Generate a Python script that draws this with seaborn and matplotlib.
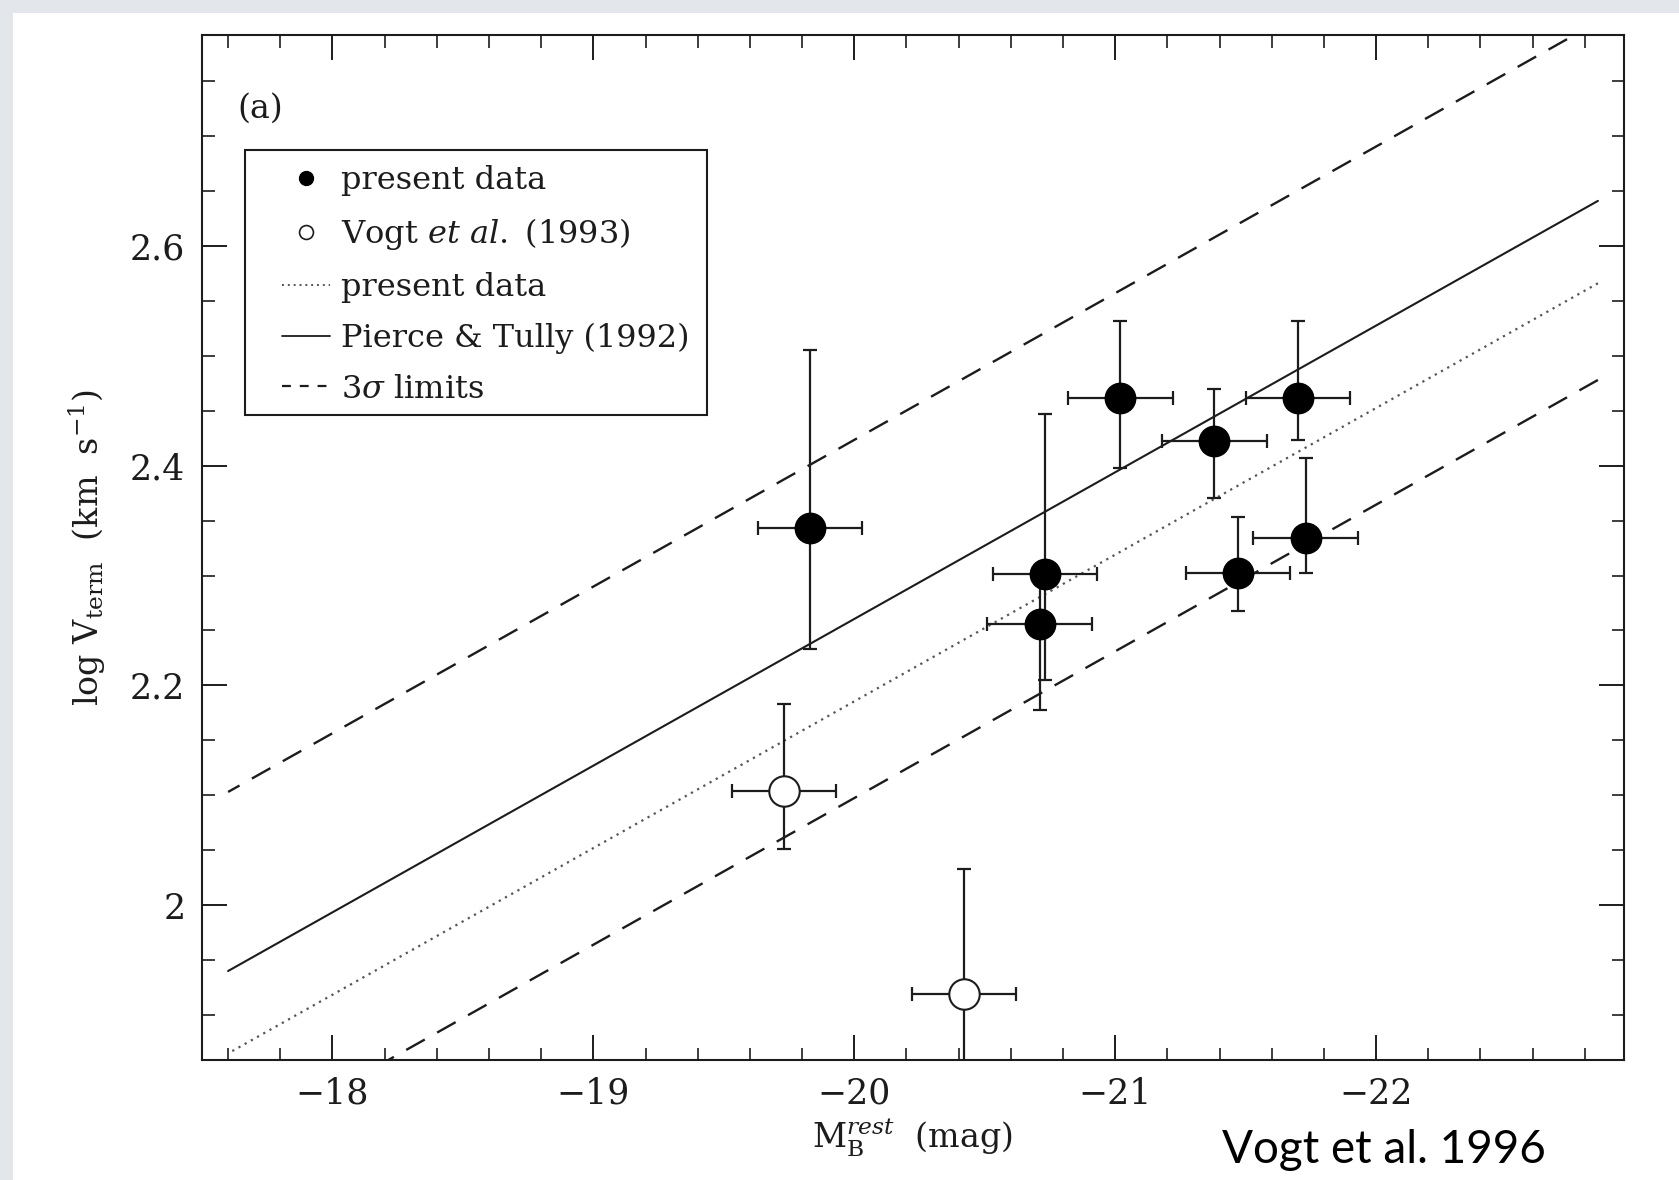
import matplotlib
matplotlib.use("Agg")
import matplotlib.pyplot as plt
from matplotlib.lines import Line2D
from matplotlib.patches import Rectangle
from matplotlib.ticker import MultipleLocator, FuncFormatter
import seaborn as sns
import pandas as pd

# ---- data ----
present_x = [-19.83, -21.02, -21.38, -21.70, -20.73, -20.71, -21.47, -21.73]
present_y = [2.343, 2.462, 2.422, 2.462, 2.301, 2.256, 2.302, 2.334]
present_yerr_lo = [0.110, 0.064, 0.051, 0.039, 0.096, 0.078, 0.034, 0.032]
present_yerr_hi = [0.162, 0.070, 0.048, 0.070, 0.146, 0.050, 0.051, 0.073]
present_xerr = [0.20, 0.20, 0.20, 0.20, 0.20, 0.20, 0.20, 0.20]

vogt_x = [-19.73, -20.42]
vogt_y = [2.104, 1.919]
vogt_yerr_lo = [0.053, 0.12]
vogt_yerr_hi = [0.079, 0.114]
vogt_xerr = [0.20, 0.20]

line_x = [-17.60, -22.85]
pt_y = [1.940, 2.641]          # Pierce & Tully (1992)
fit_y = [1.865, 2.566]         # present data fit (dotted)
upper_y = [2.103, 2.804]       # +3 sigma
lower_y = [1.777, 2.478]       # -3 sigma

xticks = [-18, -19, -20, -21, -22]
yticks = [2.0, 2.2, 2.4, 2.6]

# ---- style ----
sns.set_theme(style="white")
plt.rcParams["font.family"] = ["DejaVu Serif"]
plt.rcParams["mathtext.fontset"] = "dejavuserif"

INK = "#1c1c1c"
W, H = 1679, 1180
fig = plt.figure(figsize=(W / 100, H / 100), dpi=100, facecolor="white")
# slide-like grey border (top and left)
fig.patches.append(Rectangle((0, 1 - 13 / H), 1, 13 / H, transform=fig.transFigure,
                             facecolor="#e3e6ea", edgecolor="none", zorder=0))
fig.patches.append(Rectangle((0, 0), 13 / W, 1, transform=fig.transFigure,
                             facecolor="#e3e6ea", edgecolor="none", zorder=0))

ax = fig.add_axes([202 / W, (H - 1060) / H, (1624 - 202) / W, (1060 - 35) / H])
ax.set_facecolor("white")

lines_df = pd.DataFrame({"x": line_x * 4,
                         "y": pt_y + fit_y + upper_y + lower_y,
                         "kind": ["pt"] * 2 + ["fit"] * 2 + ["up"] * 2 + ["lo"] * 2})
sns.lineplot(data=lines_df[lines_df.kind == "pt"], x="x", y="y", ax=ax, color=INK,
             lw=1.5, legend=False)
sns.lineplot(data=lines_df[lines_df.kind == "fit"], x="x", y="y", ax=ax, color="#555555",
             lw=1.6, legend=False, linestyle=(0, (1, 2.2)))
for k in ["up", "lo"]:
    sns.lineplot(data=lines_df[lines_df.kind == k], x="x", y="y", ax=ax, color=INK,
                 lw=1.7, legend=False, linestyle=(0, (9, 6)))

ax.errorbar(present_x, present_y, yerr=[present_yerr_lo, present_yerr_hi], xerr=present_xerr,
            fmt="none", ecolor=INK, elinewidth=1.6, capsize=5, capthick=1.6, zorder=3)
ax.errorbar(vogt_x, vogt_y, yerr=[vogt_yerr_lo, vogt_yerr_hi], xerr=vogt_xerr,
            fmt="none", ecolor=INK, elinewidth=1.6, capsize=5, capthick=1.6, zorder=3)

sns.scatterplot(x=present_x, y=present_y, ax=ax, s=480, color="black", edgecolor="black",
                linewidth=1, zorder=5)
sns.scatterplot(x=vogt_x, y=vogt_y, ax=ax, s=480, facecolor="white", edgecolor=INK,
                linewidth=1.5, zorder=5)

ax.set_xlim(-17.5, -22.95)
ax.set_ylim(1.859, 2.792)

ax.set_xticks(xticks)
ax.set_yticks(yticks)
ax.xaxis.set_minor_locator(MultipleLocator(0.2))
ax.yaxis.set_minor_locator(MultipleLocator(0.05))
ax.xaxis.set_major_formatter(FuncFormatter(lambda v, p: "\u2212%d" % abs(round(v))))
ax.yaxis.set_major_formatter(FuncFormatter(lambda v, p: ("%g" % v)))
ax.tick_params(which="both", direction="in", top=True, right=True, bottom=True, left=True,
               color=INK, labelcolor=INK, labelsize=25)
ax.tick_params(which="major", length=18, width=1.4, pad=12)
ax.tick_params(which="minor", length=9, width=1.2)
for s in ax.spines.values():
    s.set_color(INK)
    s.set_linewidth(1.5)

ax.set_xlabel(r"$\mathrm{M}_{\mathrm{B}}^{rest}$  (mag)", fontsize=24, color=INK, labelpad=4)
ax.set_ylabel(r"log V$_{\mathrm{term}}$  (km  s$^{-1}$)", fontsize=24, color=INK, labelpad=16)

ax.text(0.025, 0.928, "(a)", transform=ax.transAxes, fontsize=24, color=INK,
        ha="left", va="center")

# legend frame drawn separately to match the original's padding
ax.add_patch(Rectangle((0.0302, 0.629), 0.355 - 0.0302, 0.888 - 0.629, transform=ax.transAxes,
                       facecolor="white", edgecolor=INK, linewidth=1.5, zorder=6))
handles = [
    Line2D([], [], marker="o", color="none", markerfacecolor="black", markeredgecolor="black",
           markersize=10),
    Line2D([], [], marker="o", color="none", markerfacecolor="white", markeredgecolor=INK,
           markersize=10, markeredgewidth=1.2),
    Line2D([], [], color="#555555", lw=1.4, linestyle=(0, (1, 2))),
    Line2D([], [], color=INK, lw=1.3),
    Line2D([], [], color=INK, lw=1.6, linestyle=(0, (4, 4))),
]
labels = ["present data", r"Vogt $\it{et\ al.}$ (1993)", "present data",
          "Pierce & Tully (1992)", r"3$\sigma$ limits"]
leg = ax.legend(handles, labels, loc="upper left", bbox_to_anchor=(0.056, 0.873),
                borderaxespad=0, borderpad=0, fontsize=23, frameon=False,
                handlelength=1.5, handletextpad=0.35, labelspacing=0.62,
                labelcolor=INK)
leg.set_zorder(7)

fig.text(1384 / W, 1 - 1150 / H, "Vogt et al. 1996", fontsize=33, family="Lato",
         ha="center", va="center", color="black")

fig.savefig("out.png", dpi=100, facecolor=fig.get_facecolor())
